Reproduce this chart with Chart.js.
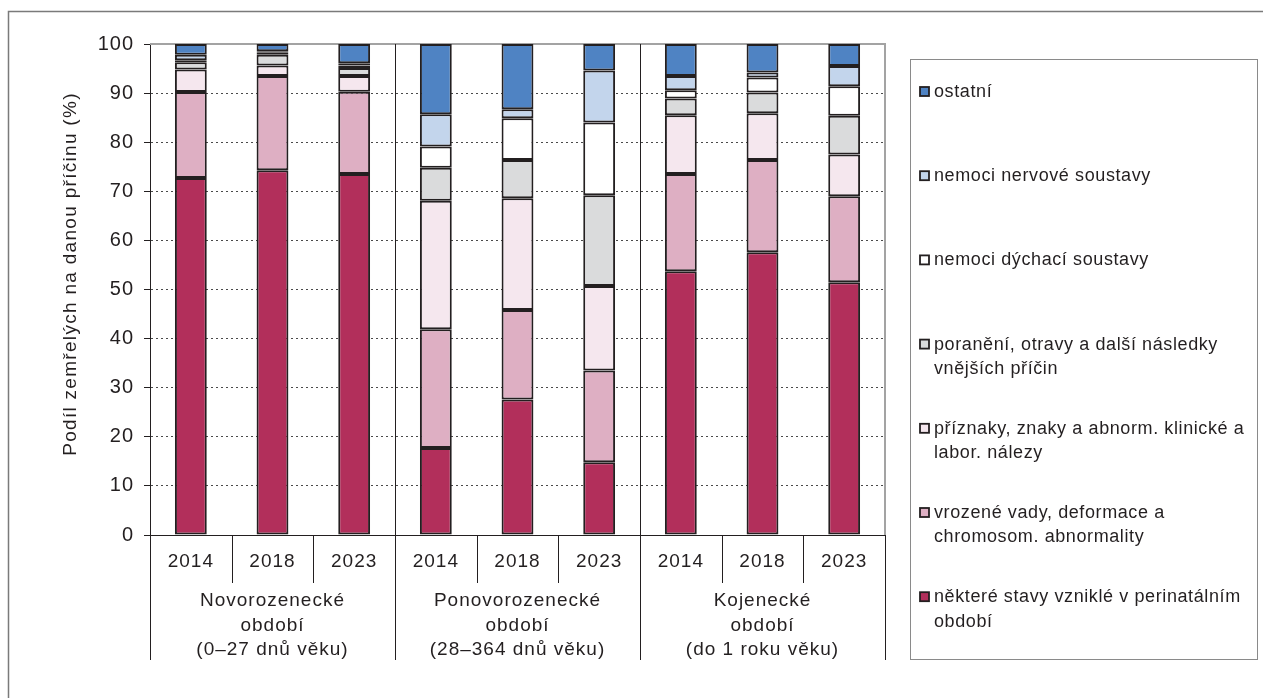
<!DOCTYPE html>
<html lang="cs">
<head>
    <meta charset="UTF-8">
    <title>Zemřelí kojenci podle příčin smrti</title>
    <script src="https://cdn.jsdelivr.net/npm/chart.js"></script>
    <style>
        html, body {
            margin: 0;
            padding: 0;
            background: #fff;
        }
        #wrap {
            width: 1263px;
            height: 698px;
        }
    </style>
</head>
<body>
    <div id="wrap"><canvas id="myChart" width="1263" height="698"></canvas></div>

    <script>
        // data (%), bottom segment first
        const years = ['2014', '2018', '2023', '2014', '2018', '2023', '2014', '2018', '2023'];
        const groups = [
            ['Novorozenecké', 'období', '(0–27 dnů věku)'],
            ['Ponovorozenecké', 'období', '(28–364 dnů věku)'],
            ['Kojenecké', 'období', '(do 1 roku věku)']
        ];
        const perinatal = [72.7, 74.3, 73.5, 17.7, 27.6, 14.8, 53.7, 57.6, 51.5];
        const vrozene   = [17.5, 19.2, 16.8, 24.2, 18.2, 18.7, 19.8, 18.8, 17.5];
        const priznaky  = [4.6, 2.1, 3.2, 26.2, 22.8, 17.2, 12.0, 9.5, 8.5];
        const poraneni  = [1.5, 2.2, 1.6, 6.7, 7.8, 18.5, 3.4, 4.2, 7.9];
        const dychaci   = [0.4, 0.4, 0.5, 4.3, 8.5, 14.8, 1.7, 3.1, 6.0];
        const nervove   = [1.1, 0.3, 0.5, 6.6, 1.8, 10.6, 2.9, 1.0, 4.1];
        const ostatni   = [2.2, 1.5, 3.9, 14.3, 13.3, 5.4, 6.5, 5.8, 4.5];
        const yTicks = [0, 10, 20, 30, 40, 50, 60, 70, 80, 90, 100];

        const series = [
            { lines: ['některé stavy vzniklé v perinatálním', 'období'], data: perinatal, color: '#b22f5b' },
            { lines: ['vrozené vady, deformace a', 'chromosom. abnormality'], data: vrozene, color: '#deafc3' },
            { lines: ['příznaky, znaky a abnorm. klinické a', 'labor. nálezy'], data: priznaky, color: '#f5e7ee' },
            { lines: ['poranění, otravy a další následky', 'vnějších příčin'], data: poraneni, color: '#dadbdc' },
            { lines: ['nemoci dýchací soustavy'], data: dychaci, color: '#ffffff' },
            { lines: ['nemoci nervové soustavy'], data: nervove, color: '#c3d5ec' },
            { lines: ['ostatní'], data: ostatni, color: '#4f83c3' }
        ];

        const FONT = "'Liberation Sans', Arial, sans-serif";
        const INK = '#231f20';

        // frame, separators, group labels and legend
        const extras = {
            id: 'extras',
            beforeDraw(chart) {
                // the reference text is set a little wider than plain Arial
                chart.ctx.letterSpacing = '1px';
            },
            beforeDatasetsDraw(chart) {
                const { ctx, chartArea: a } = chart;
                ctx.save();
                ctx.strokeStyle = '#a3a3a3';
                ctx.lineWidth = 2;
                ctx.beginPath();
                ctx.moveTo(a.left, a.top);
                ctx.lineTo(a.right, a.top);
                ctx.lineTo(a.right, a.bottom);
                ctx.stroke();
                ctx.restore();
            },
            afterDraw(chart) {
                const { ctx, chartArea: a } = chart;
                const x = chart.scales.x;
                const step = x.getPixelForValue(1) - x.getPixelForValue(0);
                ctx.save();

                // outer frame (cut at the right and bottom)
                ctx.strokeStyle = '#7a7a7a';
                ctx.lineWidth = 1.5;
                ctx.beginPath();
                ctx.moveTo(8.5, 698);
                ctx.lineTo(8.5, 11.5);
                ctx.lineTo(1263, 11.5);
                ctx.stroke();

                // separators between groups and years
                ctx.strokeStyle = INK;
                ctx.lineWidth = 1;
                for (let k = 0; k <= years.length; k++) {
                    const px = Math.round(x.getPixelForValue(k) - step / 2) + 0.5;
                    const isGroup = k % 3 === 0;
                    ctx.beginPath();
                    if (isGroup && k > 0 && k < years.length) {
                        ctx.moveTo(px, a.top);
                    } else {
                        ctx.moveTo(px, a.bottom);
                    }
                    ctx.lineTo(px, isGroup ? 660 : 583);
                    ctx.stroke();
                }

                // group labels
                ctx.letterSpacing = '1px';
                ctx.fillStyle = INK;
                ctx.font = '19px ' + FONT;
                ctx.textAlign = 'center';
                ctx.textBaseline = 'middle';
                groups.forEach((g, i) => {
                    const cx = x.getPixelForValue(i * 3 + 1);
                    g.forEach((line, j) => ctx.fillText(line, cx, 601 + j * 24.5));
                });

                // y axis title
                ctx.save();
                ctx.translate(71, 274);
                ctx.rotate(-Math.PI / 2);
                ctx.letterSpacing = '1.3px';
                ctx.font = '19px ' + FONT;
                ctx.fillText('Podíl zemřelých na danou příčinu (%)', 0, 0);
                ctx.restore();

                // legend
                ctx.strokeStyle = '#8a8a8a';
                ctx.lineWidth = 1;
                ctx.strokeRect(910.5, 59.5, 347, 600);
                ctx.letterSpacing = '0.6px';
                ctx.font = '18px ' + FONT;
                ctx.textAlign = 'left';
                const items = chart.data.datasets.slice().reverse();
                items.forEach((ds, i) => {
                    const cy = 92 + i * 84.2;
                    ctx.fillStyle = ds.backgroundColor;
                    ctx.fillRect(920, cy - 5, 9, 9);
                    ctx.strokeStyle = INK;
                    ctx.lineWidth = 1.8;
                    ctx.strokeRect(920, cy - 5, 9, 9);
                    ctx.fillStyle = INK;
                    ds.lines.forEach((line, j) => ctx.fillText(line, 934, cy + j * 24.5));
                });

                ctx.restore();
            }
        };

        const ctx = document.getElementById('myChart').getContext('2d');
        const chart = new Chart(ctx, {
            type: 'bar',
            data: {
                labels: years,
                datasets: series.map(s => ({
                    label: s.lines.join(' '),
                    lines: s.lines,
                    data: s.data,
                    backgroundColor: s.color,
                    borderColor: INK,
                    borderWidth: 2,
                    borderSkipped: false,
                    categoryPercentage: 1,
                    barPercentage: 0.39
                }))
            },
            options: {
                responsive: false,
                animation: false,
                layout: { padding: { left: 0, top: 44, right: 378, bottom: 0 } },
                plugins: {
                    legend: { display: false },
                    tooltip: { enabled: false }
                },
                scales: {
                    x: {
                        stacked: true,
                        grid: { display: false, drawTicks: false },
                        border: { display: true, color: INK, width: 1 },
                        ticks: { color: INK, font: { family: FONT, size: 19 }, padding: 15, maxRotation: 0 },
                        afterFit(scale) { scale.height = 163; }
                    },
                    y: {
                        stacked: true,
                        min: 0,
                        max: 100,
                        afterBuildTicks(scale) { scale.ticks = yTicks.map(v => ({ value: v })); },
                        grid: { color: '#4a4a4a', lineWidth: 1, tickLength: 6, tickColor: INK, tickBorderDash: [] },
                        border: { display: true, color: INK, width: 1, dash: [2, 3] },
                        ticks: { color: INK, font: { family: FONT, size: 20 }, padding: 10 },
                        afterFit(scale) { scale.width = 150; }
                    }
                }
            },
            plugins: [extras]
        });
    </script>
</body>
</html>
